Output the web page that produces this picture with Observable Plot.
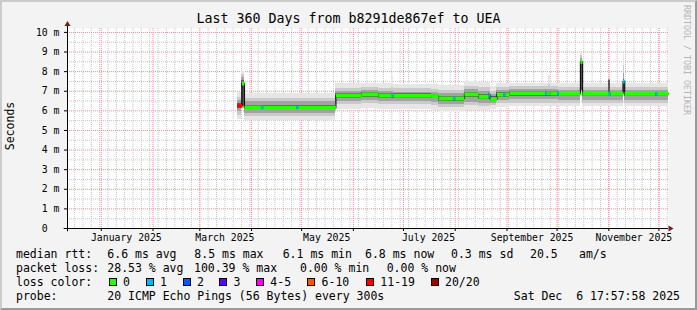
<!DOCTYPE html>
<html><head><meta charset="utf-8">
<script src="https://cdn.jsdelivr.net/npm/d3@7"></script>
<script src="https://cdn.jsdelivr.net/npm/@observablehq/plot@0.6"></script>
<style>
html,body{margin:0;padding:0;background:#fff;}
#chart{position:relative;width:697px;height:310px;background:#f3f3f3;overflow:hidden;font-family:"DejaVu Sans Mono",monospace;color:#000;}
#chart .border{position:absolute;left:0;top:0;width:697px;height:310px;box-sizing:border-box;border-top:2px solid #cbcbcb;border-left:2px solid #cbcbcb;border-right:2px solid #999;border-bottom:2px solid #999;pointer-events:none;}
#chart svg{position:absolute;left:0;top:0;}
.t{position:absolute;white-space:pre;font-size:11.5px;line-height:14px;}
.box{position:absolute;width:6px;height:6px;border:1px solid #000;}
</style></head><body><div id="chart"></div><script>
// ---------------- data ----------------
const rangeStart = "2024-12-11T17:57:58Z";
const rangeEnd   = "2025-12-06T17:57:58Z";
const segStart = [
 "2025-03-23T18:00:00Z","2025-03-26T06:00:00Z","2025-03-27T18:00:00Z","2025-04-07T00:00:00Z",
 "2025-04-08T00:00:00Z","2025-04-28T00:00:00Z","2025-04-29T00:00:00Z","2025-05-21T12:00:00Z",
 "2025-06-06T00:00:00Z","2025-06-16T00:00:00Z","2025-06-24T00:00:00Z","2025-06-25T00:00:00Z",
 "2025-07-18T00:00:00Z","2025-07-22T00:00:00Z","2025-07-31T00:00:00Z","2025-08-01T00:00:00Z",
 "2025-08-06T12:00:00Z","2025-08-15T00:00:00Z","2025-08-21T00:00:00Z","2025-08-22T00:00:00Z",
 "2025-08-26T00:00:00Z","2025-08-30T00:00:00Z","2025-08-31T00:00:00Z","2025-09-02T12:00:00Z",
 "2025-09-24T00:00:00Z","2025-09-25T00:00:00Z","2025-09-26T00:00:00Z","2025-09-27T00:00:00Z",
 "2025-10-01T00:00:00Z","2025-10-02T00:00:00Z","2025-10-15T00:00:00Z","2025-10-16T06:00:00Z",
 "2025-11-01T00:00:00Z","2025-11-02T00:00:00Z","2025-11-09T12:00:00Z","2025-11-10T12:00:00Z",
 "2025-11-29T00:00:00Z","2025-11-30T00:00:00Z"];
const dataEnd = "2025-12-06T16:00:00Z";
// median rtt in ms
const median = [6.25,7.40,6.17,6.17,6.16,6.17,6.16,6.78,6.84,6.78,6.80,6.77,6.75,6.63,6.64,6.63,
 6.84,6.72,6.80,6.60,6.83,6.84,6.83,6.90,6.90,6.90,6.90,6.89,6.88,6.87,8.50,6.87,6.85,6.87,7.50,6.87,6.87,6.87];
const lossClass = ["11-19","0","0","1","0","1","0","0","0","0","1","0","0","0","1","0",
 "0","0","1","0","0","1","0","0","1","0","0","0","1","0","0","0","1","0","1","0","1","0"];
// smoke bands (ms): outer -> inner
const smokeLo1 = [5.55,6.05,5.52,5.52,5.52,5.52,5.52,6.05,6.10,6.05,6.05,6.05,6.03,5.95,5.95,5.95,
 6.00,6.00,6.00,6.05,6.15,6.15,6.15,6.20,6.20,6.20,6.20,6.20,6.20,6.20,6.95,6.20,6.20,6.20,6.90,6.20,6.20,6.20];
const smokeLo2 = [5.75,6.10,5.69,5.69,5.69,5.69,5.69,6.30,6.35,6.30,6.30,6.30,6.28,6.15,6.15,6.15,
 6.25,6.22,6.22,6.25,6.35,6.35,6.35,6.40,6.40,6.40,6.40,6.40,6.40,6.40,7.00,6.40,6.40,6.40,6.92,6.40,6.40,6.40];
const smokeLo3 = [5.95,6.15,5.87,5.87,5.87,5.87,5.87,6.48,6.52,6.48,6.48,6.47,6.45,6.33,6.33,6.33,
 6.45,6.40,6.40,6.40,6.52,6.52,6.52,6.57,6.57,6.57,6.57,6.57,6.57,6.55,7.02,6.55,6.55,6.55,6.94,6.55,6.55,6.55];
const smokeLo4 = [6.12,6.20,6.07,6.07,6.07,6.07,6.07,6.65,6.70,6.65,6.65,6.64,6.62,6.50,6.50,6.50,
 6.68,6.58,6.58,6.50,6.68,6.68,6.68,6.74,6.74,6.74,6.74,6.74,6.73,6.72,7.05,6.72,6.72,6.72,6.96,6.72,6.72,6.72];
const smokeHi4 = [6.38,7.55,6.29,6.29,6.29,6.29,6.29,6.88,6.94,6.88,6.90,6.87,6.85,6.75,6.75,6.75,
 6.95,6.85,6.88,6.72,6.93,6.93,6.93,6.98,6.98,6.98,6.98,6.98,6.97,6.95,8.50,6.95,7.55,6.95,7.60,6.95,6.95,6.95];
const smokeHi3 = [6.52,7.70,6.46,6.46,6.46,6.46,6.46,6.97,7.03,6.97,7.00,6.96,6.94,6.88,6.88,6.88,
 7.08,6.98,7.00,6.85,7.03,7.03,7.03,7.08,7.08,7.08,7.10,7.08,7.07,7.05,8.65,7.05,7.60,7.05,7.90,7.05,7.05,7.05];
const smokeHi2 = [6.68,7.85,6.63,6.63,6.63,6.63,6.63,7.14,7.20,7.14,7.20,7.13,7.11,7.05,7.05,7.05,
 7.25,7.18,7.18,7.00,7.18,7.18,7.18,7.23,7.23,7.23,7.35,7.23,7.22,7.20,8.80,7.20,7.65,7.20,8.30,7.20,7.20,7.20];
const smokeHi1 = [6.95,8.00,6.88,6.88,6.88,6.88,6.88,7.39,7.42,7.38,7.70,7.36,7.35,7.30,7.30,7.30,
 7.50,7.45,7.45,7.25,7.38,7.38,7.38,7.42,7.42,7.42,7.80,7.42,7.40,7.40,9.00,7.40,7.70,7.40,8.85,7.40,7.40,7.40];

const yTicks = [0,1,2,3,4,5,6,7,8,9,10];
const yTickLabels = ["0\u00a0\u00a0","1 m","2 m","3 m","4 m","5 m","6 m","7 m","8 m","9 m","10 m"];
const xLabelDates = ["2025-01-16T00:00:00Z","2025-03-16T00:00:00Z","2025-05-16T00:00:00Z","2025-07-16T00:00:00Z","2025-09-16T00:00:00Z","2025-11-16T00:00:00Z"];
const xLabels = ["January 2025","March 2025","May 2025","July 2025","September 2025","November 2025"];

const titleText = "Last 360 Days from b8291de867ef to UEA";
const yTitle = "Seconds";
const watermark = "RRDTOOL / TOBI OETIKER";
const rttLabel = "median rtt:";
const rttStats = ["6.6 ms avg","8.5 ms max","6.1 ms min","6.8 ms now","0.3 ms sd","20.5","am/s"];
const lossLabel = "packet loss:";
const lossStats = ["28.53 % avg","100.39 % max","0.00 % min","0.00 % now"];
const lossColorLabel = "loss color:";
const lossClasses = ["0","1","2","3","4-5","6-10","11-19","20/20"];
const lossColors = ["#26ff00","#00b8ff","#0059ff","#5e00ff","#ff00f5","#ff5500","#ff0000","#a10000"];
const probeLabel = "probe:";
const probeText = "20 ICMP Echo Pings (56 Bytes) every 300s";
const stampText = "Sat Dec  6 17:57:58 2025";

// ---------------- build ----------------
const x0 = new Date(rangeStart), x1 = new Date(rangeEnd);
const bounds = segStart.map(d => new Date(d)).concat([new Date(dataEnd)]);
const colorOf = Object.fromEntries(lossClasses.map((c,i)=>[c, lossColors[i]]));
const segs = segStart.map((d,i)=>({x1: bounds[i], x2: bounds[i+1], med: median[i], c: colorOf[lossClass[i]],
  lo:[smokeLo1[i],smokeLo2[i],smokeLo3[i],smokeLo4[i]], hi:[smokeHi1[i],smokeHi2[i],smokeHi3[i],smokeHi4[i]]}));
const blackPts = segs.flatMap(s=>[{x:s.x1,y:s.med},{x:s.x2,y:s.med}]);
const colorPts = segs.flatMap((s,i)=>[{x:s.x1,y:s.med,seg:i,c:s.c},{x:s.x2,y:s.med,seg:i,c:s.c}]);
const shades = ["#e6e6e6","#cacaca","#a2a2a2","#5a5a5a"];

const DAY = 864e5;
const gridMinorX = d3.range(0, 80).map(k => new Date(Date.UTC(2024,11,16) + k*5*DAY)).filter(d => d < x1);
const gridMonths = d3.utcMonth.range(new Date("2025-01-01T00:00:00Z"), x1);
const gridMinorY = d3.range(0.5, 10.1, 1);
const labelTimes = xLabelDates.map(d => new Date(d).getTime());

const plot = Plot.plot({
  width: 697, height: 246,
  marginLeft: 67, marginRight: 29, marginTop: 28, marginBottom: 18,
  style: {background: "transparent", fontFamily: "'DejaVu Sans Mono', monospace", fontSize: "9.8px", color: "#000", overflow: "visible"},
  x: {type: "utc", domain: [x0, x1], label: null},
  y: {domain: [0, 10.2], label: null},
  color: {type: "identity"},
  marks: [
    Plot.frame({fill: "#fff", stroke: "none"}),
    Plot.ruleX(gridMinorX, {stroke: "#c4c4c4", strokeDasharray: "1,1"}),
    Plot.ruleY(gridMinorY, {stroke: "#c4c4c4", strokeDasharray: "1,1"}),
    Plot.ruleX(gridMonths, {stroke: "#f09090", strokeDasharray: "1,1"}),
    Plot.ruleY(yTicks.filter(v => v > 0), {stroke: "#f09090", strokeDasharray: "1,1"}),
    ...[0,1,2,3].map(k => Plot.rect(segs, {x1: "x1", x2: "x2", y1: d => d.lo[k], y2: d => d.hi[k], fill: shades[k], shapeRendering: "crispEdges"})),
    Plot.line(blackPts, {x: "x", y: "y", stroke: "#111", strokeWidth: 1.2}),
    Plot.line(colorPts, {x: "x", y: "y", z: "seg", stroke: "c", strokeWidth: 4, strokeLinecap: "butt"}),
    Plot.ruleY([0], {x1: new Date(x0.getTime() - 2*DAY), x2: x1, stroke: "#000"}),
    Plot.ruleX([x0], {y1: -0.17, y2: 10.33, stroke: "#000"}),
    Plot.axisY(yTicks, {anchor: "left", tickSize: 3, tickPadding: 5, tickFormat: d => yTickLabels[yTicks.indexOf(d)]}),
    Plot.axisX(gridMonths, {anchor: "bottom", tickSize: 3, tickFormat: () => ""}),
    Plot.axisX(xLabelDates.map(d => new Date(d)), {anchor: "bottom", tickSize: 0, tickPadding: 6, tickFormat: d => xLabels[labelTimes.indexOf(d.getTime())]})
  ]
});

const chart = document.getElementById("chart");
chart.appendChild(plot);
// arrows at the axis ends, placed from the scales
const sx = plot.scale("x"), sy = plot.scale("y");
const ns = "http://www.w3.org/2000/svg";
const xr = sx.apply(x1) + 0.5, yb = sy.apply(0) + 0.5, xl = sx.apply(x0) + 0.5, ytop = sy.apply(10.33) + 0.5;
for (const pts of [`${xr},${yb-3} ${xr+5},${yb} ${xr},${yb+3}`, `${xl-3},${ytop} ${xl+3},${ytop} ${xl},${ytop-5}`]) {
  const p = document.createElementNS(ns, "polygon");
  p.setAttribute("points", pts); p.setAttribute("fill", "#801818");
  plot.appendChild(p);
}

function addText(txt, left, top, extra) {
  const el = document.createElement("div");
  el.className = "t"; el.textContent = txt;
  el.style.left = left + "px"; el.style.top = top + "px";
  if (extra) Object.assign(el.style, extra);
  chart.appendChild(el); return el;
}
// title
addText(titleText, 0, 11, {width: "697px", textAlign: "center", fontSize: "13.3px", lineHeight: "16px"});
// y title
addText(yTitle, 10, 126, {transform: "translate(-50%,-50%) rotate(-90deg)"});
// watermark
addText(watermark, 687, 60, {transform: "translate(-50%,-50%) rotate(90deg)", fontSize: "8.3px", color: "#b4b4b4"});
// legend
const L = [247.3, 261.3, 275.3, 289.3];
addText(rttLabel, 16, L[0]);
[107.3,194.3,282.7,365,451,530,579].forEach((x,i) => addText(rttStats[i], x, L[0]));
addText(lossLabel, 16, L[1]);
[107.3,194,300,386.7].forEach((x,i) => addText(lossStats[i], x, L[1]));
addText(lossColorLabel, 16, L[2]);
[108.7,145.7,182.7,219.3,256,307.3,366,430.7].forEach((x,i) => {
  const b = document.createElement("div"); b.className = "box";
  b.style.left = x + "px"; b.style.top = "278.3px"; b.style.background = lossColors[i];
  chart.appendChild(b);
  addText(lossClasses[i], x + 14.3, L[2]);
});
addText(probeLabel, 16, L[3]);
addText(probeText, 107.3, L[3]);
addText(stampText, 0, L[3], {width: "680px", textAlign: "right"});
const border = document.createElement("div"); border.className = "border"; chart.appendChild(border);
</script></body></html>
